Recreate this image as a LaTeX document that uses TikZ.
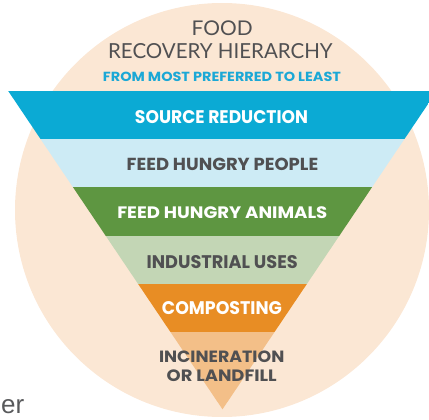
\documentclass[tikz,border=0pt]{standalone}
\usepackage{fontspec}
\usepackage{graphicx}
\newfontfamily\labfont{Poppins}
\newfontfamily\titfont{Lato}
\newfontfamily\erfont{Liberation Sans}
\definecolor{bgpeach}{HTML}{FBE7D4}
\definecolor{bandblue}{HTML}{0BAAD4}
\definecolor{bandlightblue}{HTML}{CDEBF5}
\definecolor{bandgreen}{HTML}{5E9641}
\definecolor{bandpalegreen}{HTML}{C3D6B5}
\definecolor{bandorange}{HTML}{E88D24}
\definecolor{bandpeach}{HTML}{F3BF88}
\definecolor{darktext}{HTML}{505052}
\definecolor{subblue}{HTML}{1BA8D6}
\definecolor{ergray}{HTML}{58595B}
\newcommand{\fitbox}[3]{\resizebox{#1pt}{#2pt}{#3}}
\begin{document}
\begin{tikzpicture}[x=1pt,y=-1pt,
  lab/.style={inner sep=0pt, font=\labfont\bfseries, align=center},
  tit/.style={inner sep=0pt, font=\titfont, text=darktext}]
\useasboundingbox (0,0) rectangle (429,420);
\clip (0,0) rectangle (429,420);
% background circle
\fill[bgpeach] (222,210) circle[radius=207];
% inverted triangle with bands
\begin{scope}
  \clip (8,90.7) -- (437,90.7) -- (222.5,409.3) -- cycle;
  \fill[bandblue] (0,90.7) rectangle (440,139);
  \fill[bandlightblue] (0,139) rectangle (440,187);
  \fill[bandgreen] (0,187) rectangle (440,235.5);
  \fill[bandpalegreen] (0,235.5) rectangle (440,284);
  \fill[bandorange] (0,284) rectangle (440,332);
  \fill[bandpeach] (0,332) rectangle (440,410);
\end{scope}
% title
\node[tit] (food) at (222.2,28.4) {\fitbox{61}{14.7}{FOOD}};
\node[tit] (recovery) at (220.4,50.8) {\fitbox{224.5}{15}{RECOVERY HIERARCHY}};
\node[lab, text=subblue] (sub) at (222,77) {\fitbox{238}{9.4}{FROM MOST PREFERRED TO LEAST}};
% band labels
\node[lab, text=white] (source) at (221.5,116.7) {\fitbox{173}{13}{SOURCE REDUCTION}};
\node[lab, text=darktext] (people) at (222.5,164.5) {\fitbox{191.5}{12.4}{FEED HUNGRY PEOPLE}};
\node[lab, text=white] (animals) at (222.3,212.5) {\fitbox{210}{11.8}{FEED HUNGRY ANIMALS}};
\node[lab, text=darktext] (industrial) at (222.2,261.7) {\fitbox{151}{13}{INDUSTRIAL USES}};
\node[lab, text=white] (composting) at (222,308.3) {\fitbox{120}{13}{COMPOSTING}};
\node[lab, text=darktext, font=\labfont\bfseries\fontsize{10}{19.3}\selectfont] (landfill) at (221.7,366.2)
  {\fitbox{125.3}{11.6}{INCINERATION}\\\fitbox{110}{11.7}{OR LANDFILL}};
% text at lower left
\node[anchor=base west, inner sep=0pt, text=ergray, font=\erfont\fontsize{26}{26}\selectfont] (er) at (1,413.5) {er};
\end{tikzpicture}
\end{document}
